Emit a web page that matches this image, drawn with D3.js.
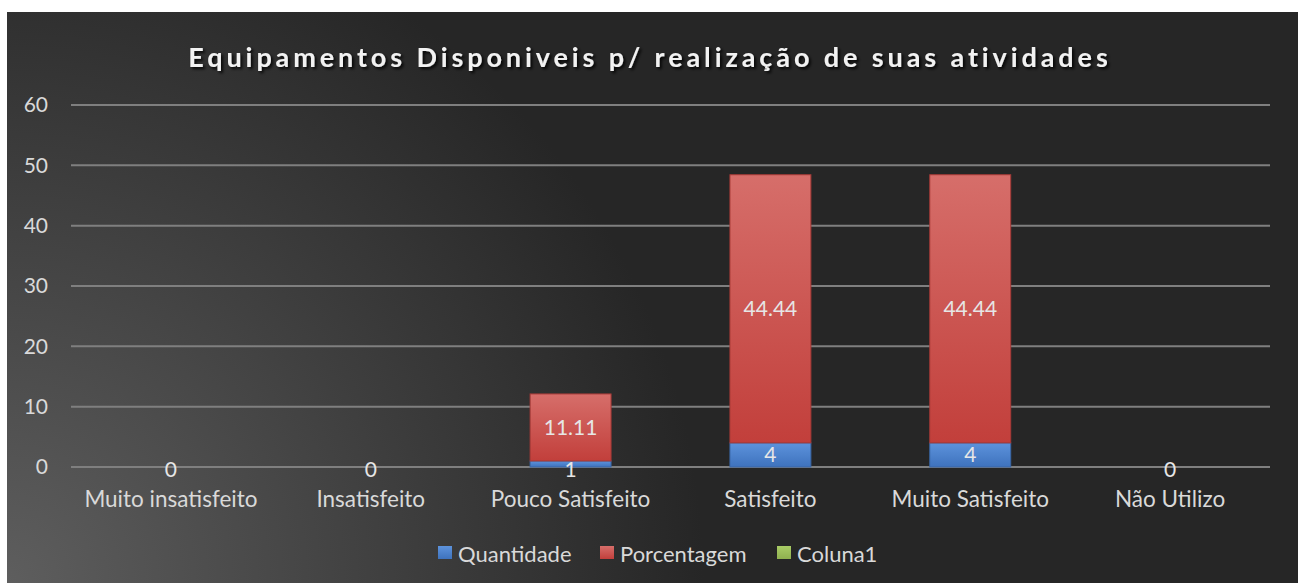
<!DOCTYPE html>
<html>
<head>
<meta charset="utf-8">
<script src="https://cdn.jsdelivr.net/npm/d3@7"></script>
<style>
  html, body { margin: 0; padding: 0; background: #fff; }
  svg { display: block; }
  text { font-family: Lato, "Open Sans", sans-serif; fill: #d9d9d9; }
</style>
</head>
<body>
<svg id="chart"></svg>
<script>
const categories = ['Muito insatisfeito', 'Insatisfeito', 'Pouco Satisfeito', 'Satisfeito', 'Muito Satisfeito', 'Não Utilizo'];
const quantidade = [0, 0, 1, 4, 4, 0];
const porcentagem = [0, 0, 11.11, 44.44, 44.44, 0];
const coluna1 = [0, 0, 0, 0, 0, 0];
const yTicks = [0, 10, 20, 30, 40, 50, 60];
const seriesNames = ['Quantidade', 'Porcentagem', 'Coluna1'];

const W = 1298, H = 583;
const FONT = 'Lato, "Open Sans", sans-serif';
const svg = d3.select('#chart').attr('width', W).attr('height', H);
const defs = svg.append('defs');

const bg = defs.append('radialGradient').attr('id', 'bg')
  .attr('gradientUnits', 'userSpaceOnUse')
  .attr('cx', 7).attr('cy', 583).attr('r', 820);
bg.append('stop').attr('offset', 0).attr('stop-color', '#5e5e5e');
bg.append('stop').attr('offset', 0.85).attr('stop-color', '#262626');
bg.append('stop').attr('offset', 1).attr('stop-color', '#262626');

function grad(id, top, bottom) {
  const g = defs.append('linearGradient').attr('id', id)
    .attr('x1', 0).attr('y1', 0).attr('x2', 0).attr('y2', 1);
  g.append('stop').attr('offset', 0).attr('stop-color', top);
  g.append('stop').attr('offset', 1).attr('stop-color', bottom);
}
grad('gBlue', '#5d93dc', '#3e72bd');
grad('gRed', '#d66e6a', '#c23f3b');
grad('gGreen', '#a9cc66', '#8fb04f');

const shadow = defs.append('filter').attr('id', 'shadow');
shadow.append('feDropShadow').attr('dx', 2).attr('dy', 2).attr('stdDeviation', 1.5)
  .attr('flood-color', '#000').attr('flood-opacity', 0.9);

svg.append('rect').attr('x', 7).attr('y', 12).attr('width', W - 7).attr('height', H - 12)
  .attr('fill', 'url(#bg)');

svg.append('text').attr('x', 650).attr('y', 67).attr('text-anchor', 'middle')
  .style('font-size', '27px').style('font-weight', 'bold').style('letter-spacing', '3.9px')
  .style('fill', '#f2f2f2').attr('filter', 'url(#shadow)')
  .text('Equipamentos Disponiveis p/ realização de suas atividades');

const x = d3.scaleBand().domain(categories).range([71, 1270]).paddingInner(0.595).paddingOuter(0.2975);
const y = d3.scaleLinear().domain([0, 60]).range([467, 105]);

// grid
svg.append('g').selectAll('line').data(yTicks).join('line')
  .attr('x1', 71).attr('x2', 1270)
  .attr('y1', d => y(d)).attr('y2', d => y(d))
  .attr('stroke', '#7f7f7f').attr('stroke-width', 2);

const yAxis = svg.append('g').attr('transform', 'translate(48,0)')
  .call(d3.axisLeft(y).tickValues(yTicks).tickSize(0).tickPadding(0));
yAxis.select('.domain').remove();
yAxis.selectAll('text').style('font-size', '21px').attr('fill', '#d9d9d9')
  .style('font-family', FONT);

const xAxis = svg.append('g').attr('transform', 'translate(0,507)')
  .call(d3.axisBottom(x).tickSize(0).tickPadding(0));
xAxis.select('.domain').remove();
xAxis.selectAll('text').style('font-size', '22.5px').attr('fill', '#d9d9d9').attr('dy', 0)
  .style('font-family', FONT);

// stacked bars
const rows = categories.map((c, i) => ({ cat: c, Quantidade: quantidade[i], Porcentagem: porcentagem[i], Coluna1: coluna1[i] }));
const stack = d3.stack().keys(seriesNames)(rows);
const fills = { Quantidade: 'url(#gBlue)', Porcentagem: 'url(#gRed)', Coluna1: 'url(#gGreen)' };
const strokes = { Quantidade: '#3a67a6', Porcentagem: '#a63a37', Coluna1: '#7d9a45' };

stack.forEach(s => {
  const g = svg.append('g');
  g.selectAll('rect').data(s.filter(d => d[1] - d[0] > 0)).join('rect')
    .attr('x', d => x(d.data.cat)).attr('width', x.bandwidth())
    .attr('y', d => y(d[1])).attr('height', d => y(d[0]) - y(d[1]))
    .attr('fill', fills[s.key]).attr('stroke', strokes[s.key]).attr('stroke-width', 1);
});

// labels
const labelled = stack.filter(s => s.key !== 'Coluna1');
labelled.forEach(s => {
  svg.append('g').selectAll('text')
    .data(s.filter(d => s.key === 'Quantidade' || d[1] - d[0] > 0)).join('text')
    .attr('x', d => x(d.data.cat) + x.bandwidth() / 2)
    .attr('y', d => {
      const mid = y((d[0] + d[1]) / 2);
      return s.key === 'Quantidade' && d[1] - d[0] < 2 ? y(0) + 2 : mid;
    })
    .attr('dy', '0.36em').attr('text-anchor', 'middle')
    .style('font-size', '21px').style('fill', '#e6e6e6')
    .text(d => String(d[1] - d[0] === 0 ? 0 : +(d[1] - d[0]).toFixed(2)));
});

// legend
const legendX = [438, 600, 777];
const legend = svg.append('g');
seriesNames.forEach((n, i) => {
  legend.append('rect').attr('x', legendX[i]).attr('y', 546).attr('width', 14).attr('height', 13)
    .attr('fill', fills[n]);
  legend.append('text').attr('x', legendX[i] + 20).attr('y', 562)
    .style('font-size', '22px').text(n);
});
</script>
</body>
</html>
